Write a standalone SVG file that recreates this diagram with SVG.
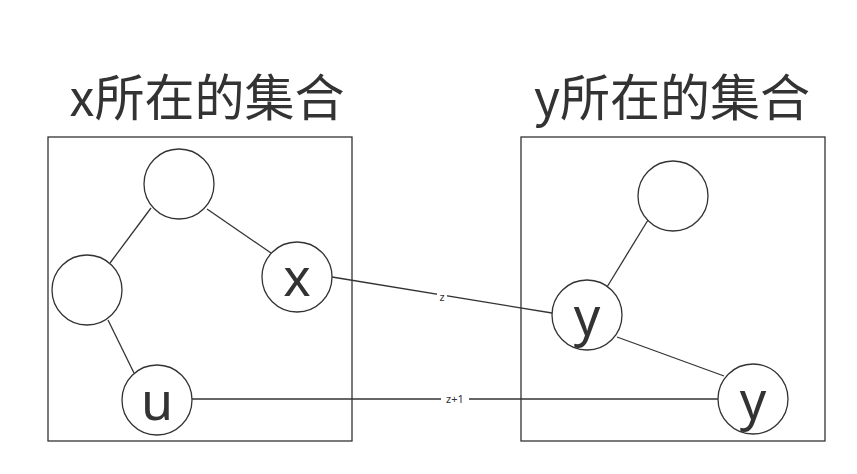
<svg xmlns="http://www.w3.org/2000/svg" width="857" height="474" viewBox="0 0 857 474">
<style>
.box{fill:#fff;stroke:#333;stroke-width:1.3}
.node{fill:#fff;stroke:#333;stroke-width:1.3}
.edge{stroke:#333;stroke-width:1.3;fill:none}
.title{font-family:"Noto Sans CJK SC","Noto Sans",sans-serif;font-size:50px;fill:#333;text-anchor:middle}
.lbl{font-family:"Noto Sans","Open Sans",sans-serif;font-size:52px;fill:#333;text-anchor:middle}
.elbl{font-family:"Noto Sans","Open Sans",sans-serif;font-size:11px;fill:#333;text-anchor:middle}
</style>
<rect width="857" height="474" fill="#fff"/>
<g id="title-x"><text class="title" x="207" y="116">x所在的集合</text></g>
<g id="title-y"><text class="title" x="672" y="116">y所在的集合</text></g>
<g id="set-x"><rect class="box" x="48" y="137" width="304" height="304"/></g>
<g id="set-y"><rect class="box" x="521" y="137" width="304" height="304"/></g>
<g id="connectors">
<line class="edge" x1="151" y1="208" x2="110" y2="263"/>
<line class="edge" x1="207" y1="209" x2="271" y2="253"/>
<line class="edge" x1="108" y1="320" x2="134" y2="373"/>
<line class="edge" x1="332" y1="277" x2="552" y2="313"/>
<line class="edge" x1="192" y1="399" x2="718" y2="399"/>
<line class="edge" x1="648" y1="220" x2="607" y2="287"/>
<line class="edge" x1="617" y1="337" x2="724" y2="376"/>
<rect x="437" y="290" width="10" height="13" fill="#fff"/>
<text class="elbl" x="442" y="301">z</text>
<rect x="441" y="392" width="28" height="14" fill="#fff"/>
<text class="elbl" x="455" y="403">z+1</text>
</g>
<g id="n-top-left"><circle class="node" cx="179" cy="184" r="35"/></g>
<g id="n-left"><circle class="node" cx="87" cy="290" r="35"/></g>
<g id="n-x"><circle class="node" cx="297" cy="277" r="35"/><text class="lbl" x="297" y="296">x</text></g>
<g id="n-u"><circle class="node" cx="157" cy="400" r="35"/><text class="lbl" x="157" y="420">u</text></g>
<g id="n-top-right"><circle class="node" cx="673" cy="196" r="35"/></g>
<g id="n-y1"><circle class="node" cx="587" cy="315" r="35"/><text class="lbl" x="587" y="335">y</text></g>
<g id="n-y2"><circle class="node" cx="753" cy="399" r="35"/><text class="lbl" x="753" y="419">y</text></g>
</svg>
